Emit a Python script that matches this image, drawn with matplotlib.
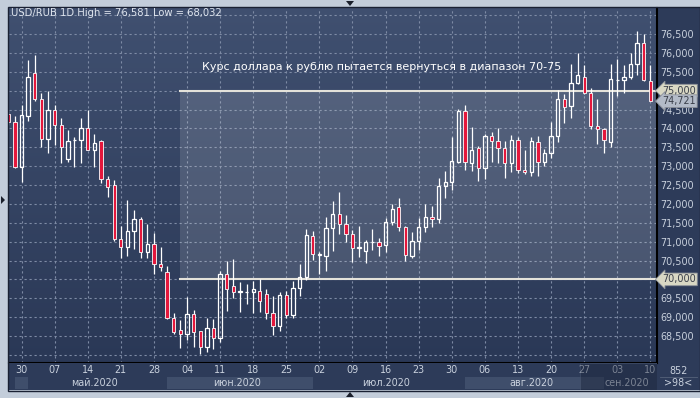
import matplotlib
matplotlib.use('Agg')
import matplotlib.pyplot as plt
import numpy as np
import pandas as pd
from matplotlib.colors import LinearSegmentedColormap
from matplotlib.patches import Rectangle, Polygon

# USD/RUB дневные свечи, 28.04.2020 - 10.09.2020
dates = pd.bdate_range('2020-04-28', '2020-09-10')
opens = [74.38, 74.16, 72.99, 74.34, 75.48, 74.77, 73.73, 74.48, 74.08, 73.18,
         73.69, 73.68, 74.00, 73.44, 73.66, 72.65, 72.49, 71.06, 70.87, 71.27,
         71.59, 70.72, 70.93, 70.42, 70.19, 68.99, 68.65, 68.54, 69.08, 68.63,
         68.21, 68.70, 68.44, 70.14, 69.82, 69.66, 69.66, 69.66, 69.70, 69.62,
         69.10, 68.77, 69.58, 69.06, 69.76, 70.07, 71.14, 70.65, 70.63, 71.35,
         71.72, 71.46, 71.19, 70.84, 70.76, 70.98, 70.98, 70.92, 71.51, 71.93,
         71.40, 70.63, 71.03, 71.38, 71.64, 71.59, 72.48, 72.57, 73.12, 74.46,
         73.09, 73.47, 72.96, 73.81, 73.67, 73.47, 73.07, 73.69, 72.90, 72.84,
         73.65, 73.12, 73.34, 73.80, 74.77, 74.59, 75.19, 75.37, 74.93, 74.07,
         73.98, 73.65, 75.28, 75.28, 75.35, 75.70, 76.25, 75.26]
highs = [74.45, 74.33, 74.62, 75.81, 75.94, 74.95, 74.99, 74.61, 74.27, 73.97,
         73.76, 74.27, 74.49, 73.84, 73.68, 72.74, 72.62, 71.41, 72.10, 71.84,
         71.66, 71.47, 71.22, 70.87, 70.35, 69.12, 68.92, 69.54, 69.19, 68.63,
         68.97, 68.95, 70.22, 70.49, 70.54, 69.92, 69.88, 69.97, 70.01, 69.74,
         69.56, 69.66, 69.68, 69.97, 70.42, 71.33, 71.28, 70.73, 71.64, 72.08,
         72.31, 71.70, 71.31, 71.41, 71.04, 71.33, 71.09, 71.62, 72.00, 72.16,
         71.42, 71.26, 71.63, 72.00, 71.94, 72.68, 72.87, 73.78, 74.51, 74.62,
         74.04, 73.54, 73.85, 73.91, 74.00, 73.67, 73.82, 73.78, 73.44, 73.78,
         73.80, 73.45, 74.18, 75.02, 74.90, 75.70, 76.01, 75.68, 75.06, 74.77,
         74.02, 75.70, 75.83, 75.68, 75.99, 76.58, 76.49, 75.68]
lows = [74.10, 72.96, 72.59, 74.20, 74.73, 73.52, 73.34, 73.57, 73.07, 73.12,
        72.97, 73.07, 73.43, 72.99, 72.54, 72.19, 71.03, 70.57, 70.62, 70.80,
        70.57, 70.57, 70.14, 70.23, 68.95, 68.56, 68.19, 68.39, 68.22, 68.03,
        68.07, 68.16, 68.35, 69.16, 69.52, 69.14, 69.34, 69.10, 69.14, 68.94,
        68.52, 68.64, 68.99, 68.97, 69.57, 69.98, 70.51, 70.14, 70.23, 70.76,
        71.21, 71.00, 70.47, 70.60, 70.44, 70.78, 70.62, 70.72, 71.44, 71.29,
        70.49, 70.57, 70.78, 71.26, 71.40, 71.50, 72.16, 72.38, 73.09, 72.90,
        72.88, 72.61, 72.65, 73.12, 73.09, 72.68, 72.85, 72.81, 72.79, 72.75,
        72.75, 73.01, 73.21, 73.65, 74.13, 74.27, 75.17, 74.90, 73.98, 73.58,
        73.34, 73.50, 74.86, 74.93, 75.31, 75.42, 75.25, 74.72]
closes = [74.16, 72.99, 74.35, 75.35, 74.79, 73.73, 74.48, 74.08, 73.50, 73.66,
          73.70, 74.00, 73.44, 73.60, 72.65, 72.44, 71.06, 70.87, 71.27, 71.59,
          70.72, 70.93, 70.40, 70.32, 68.99, 68.61, 68.56, 69.08, 68.61, 68.22,
          68.70, 68.45, 70.13, 69.74, 69.67, 69.68, 69.67, 69.74, 69.44, 69.10,
          68.77, 69.58, 69.06, 69.76, 70.07, 71.17, 70.66, 70.66, 71.35, 71.72,
          71.46, 71.19, 70.82, 70.85, 70.98, 70.99, 70.89, 71.51, 71.86, 71.40,
          70.65, 71.03, 71.38, 71.64, 71.59, 72.48, 72.57, 73.14, 74.46, 73.12,
          73.44, 72.94, 73.81, 73.67, 73.47, 73.07, 73.69, 72.90, 72.84, 73.67,
          73.12, 73.34, 73.80, 74.77, 74.56, 75.19, 75.42, 74.93, 74.07, 73.98,
          73.69, 75.30, 75.29, 75.35, 75.70, 76.25, 75.28, 74.72]

price_ticks = [68.5, 69.0, 69.5, 70.5, 71.0, 71.5, 72.0, 72.5, 73.0, 73.5,
               74.0, 74.5, 75.5, 76.0, 76.5]
range_lo, range_hi = 70.0, 75.0
last_price = 74.721
title = 'USD/RUB 1D High = 76,581 Low = 68,032'
note = 'Курс доллара к рублю пытается вернуться в диапазон 70-75'
month_names = {5: 'май.2020', 6: 'июн.2020', 7: 'июл.2020', 8: 'авг.2020', 9: 'сен.2020'}

W, H = 700, 398
FS = 6.9


def fx(px):
    return px / W


def fy(py):
    return 1 - py / H


def fmt(v):
    return f'{v:,.3f}'.replace(',', ' ').replace('.', ',')


fig = plt.figure(figsize=(7, 3.98), dpi=100)
fig.patch.set_facecolor('#c3cdda')

# тёмные панели справа и снизу
fig.add_artist(Rectangle((fx(657), fy(390)), fx(700) - fx(657), fy(8) - fy(390),
                         transform=fig.transFigure, fc='#2d3b59', ec='none', zorder=-1))

x = np.arange(len(dates)) - 2  # 30.04 -> 0
xlim = (-1.89, 96.0)
ylim = (67.785, 77.189)

ax = fig.add_axes([fx(9), fy(363), fx(657) - fx(9), fy(8) - fy(363)])
ax.set_xlim(*xlim)
ax.set_ylim(*ylim)
cmap = LinearSegmentedColormap.from_list('bg', ['#405070', '#2a3856'])
ax.imshow(np.linspace(0, 1, 256).reshape(-1, 1), extent=[xlim[0], xlim[1], ylim[0], ylim[1]],
          aspect='auto', cmap=cmap, origin='upper', zorder=0)

# сетка
for xv in x[2::5]:
    ax.axvline(xv, color='#7e8ba5', lw=0.8, ls=(0, (2, 2.5)), zorder=1)
for yv in np.arange(68.0, 77.01, 0.5):
    ax.axhline(yv, color='#7e8ba5', lw=0.8, ls=(0, (2, 2.5)), zorder=1)

# диапазон 70-75
x0 = 23.94
ax.add_patch(Rectangle((x0, range_lo), xlim[1] - x0, range_hi - range_lo,
                       fc='white', alpha=0.13, ec='none', zorder=2))
ax.plot([x0, xlim[1]], [range_hi, range_hi], color='#e4e2da', lw=1.5, zorder=3)
ax.plot([x0, xlim[1]], [range_lo, range_lo], color='#e4e2da', lw=1.5, zorder=3)

# свечи
bw = 0.5
for xi, o, h, l, c in zip(x, opens, highs, lows, closes):
    top, bot = max(o, c), min(o, c)
    ax.plot([xi, xi], [top, h], color='white', lw=0.9, zorder=4, solid_capstyle='butt')
    ax.plot([xi, xi], [l, bot], color='white', lw=0.9, zorder=4, solid_capstyle='butt')
    if c >= o:
        ax.add_patch(Rectangle((xi - bw / 2, bot), bw, max(top - bot, 0.01),
                               fc='none', ec='white', lw=0.9, zorder=5))
    else:
        ax.add_patch(Rectangle((xi - bw / 2, bot), bw, max(top - bot, 0.01),
                               fc='#e4173c', ec='white', lw=0.6, zorder=5))

ax.text(27.3, 75.63, note, color='white', fontsize=8.0, va='center', ha='left', zorder=6)

for s in ['top', 'left']:
    ax.spines[s].set_visible(False)
ax.spines['right'].set_color('black')
ax.spines['right'].set_linewidth(1.5)
ax.spines['bottom'].set_color('black')
ax.spines['bottom'].set_linewidth(1.5)

ax.set_xticks([])
ax.yaxis.tick_right()
ax.set_yticks(price_ticks)
ax.set_yticklabels([fmt(v) for v in price_ticks])
ax.tick_params(axis='y', length=0, pad=2.5, labelcolor='#c9d1dd', labelsize=FS)

tr = ax.get_yaxis_transform()
for v, fc in [(range_hi, '#d9d8c4'), (last_price, '#b3bbc8'), (range_lo, '#d9d8c4')]:
    ax.text(1.008, v, fmt(v), transform=tr, ha='left', va='center', fontsize=FS,
            color='#3a3f4a', clip_on=False, zorder=10,
            bbox=dict(boxstyle='larrow,pad=0.14', fc=fc, ec='#8a8f98', lw=0.6))

# шкала дат
axd = fig.add_axes([fx(9), fy(390), fx(657) - fx(9), fy(363) - fy(390)])
axd.set_xlim(*xlim)
axd.set_ylim(0, 1)
axd.set_facecolor('#2d3b59')
axd.set_xticks([])
axd.set_yticks([])
for s in axd.spines.values():
    s.set_visible(False)

for xi, d in zip(x[2::5], dates[2::5]):
    axd.text(xi, 0.74, d.strftime('%d'), color='#c9d1dd', fontsize=FS,
             ha='center', va='center')

months = pd.Series(x, index=dates).groupby(dates.month)
starts = {m: g.iloc[0] for m, g in months}
ends = {m: g.iloc[-1] for m, g in months}
for m in [4, 6, 8]:
    nxt = starts.get(m + 1, xlim[1])
    a = max(starts[m], -1)
    axd.add_patch(Rectangle((a, 0.02), nxt - a, 0.46, fc='#3f4e6b', ec='none', zorder=1))
for m, name in month_names.items():
    axd.text((starts[m] + ends[m]) / 2, 0.26, name, color='#c9d1dd', fontsize=FS,
             ha='center', va='center', zorder=2)
x_dim = 84.37
axd.add_patch(Rectangle((x_dim, 0), xlim[1] - x_dim, 1, fc='#1c253a', alpha=0.45,
                        ec='#55627a', lw=0.6, zorder=3))

fig.text(fx(678), fy(371), '852', color='#c9d1dd', fontsize=FS, ha='center', va='center')
fig.text(fx(678), fy(383), '>98<', color='#c9d1dd', fontsize=FS, ha='center', va='center')
fig.add_artist(plt.Line2D([fx(660), fx(697)], [fy(377), fy(377)], transform=fig.transFigure,
                          color='#55627a', lw=0.6))

fig.text(fx(11), fy(13), title, color='#dfe5ee', fontsize=7.2, ha='left', va='center')

# рамка и стрелки
fig.add_artist(Rectangle((fx(8), fy(391)), fx(700) - fx(8), fy(7) - fy(391),
                         transform=fig.transFigure, fc='none', ec='#1a2133', lw=1))
for pts in [[(346, 1), (354, 1), (350, 6)], [(346, 397), (354, 397), (350, 392)],
            [(1, 196), (1, 204), (5, 200)]]:
    fig.add_artist(Polygon([(fx(a), fy(b)) for a, b in pts], closed=True,
                           transform=fig.transFigure, fc='#1a1f2b', ec='none'))

fig.savefig('out.png', dpi=100, facecolor=fig.get_facecolor())
